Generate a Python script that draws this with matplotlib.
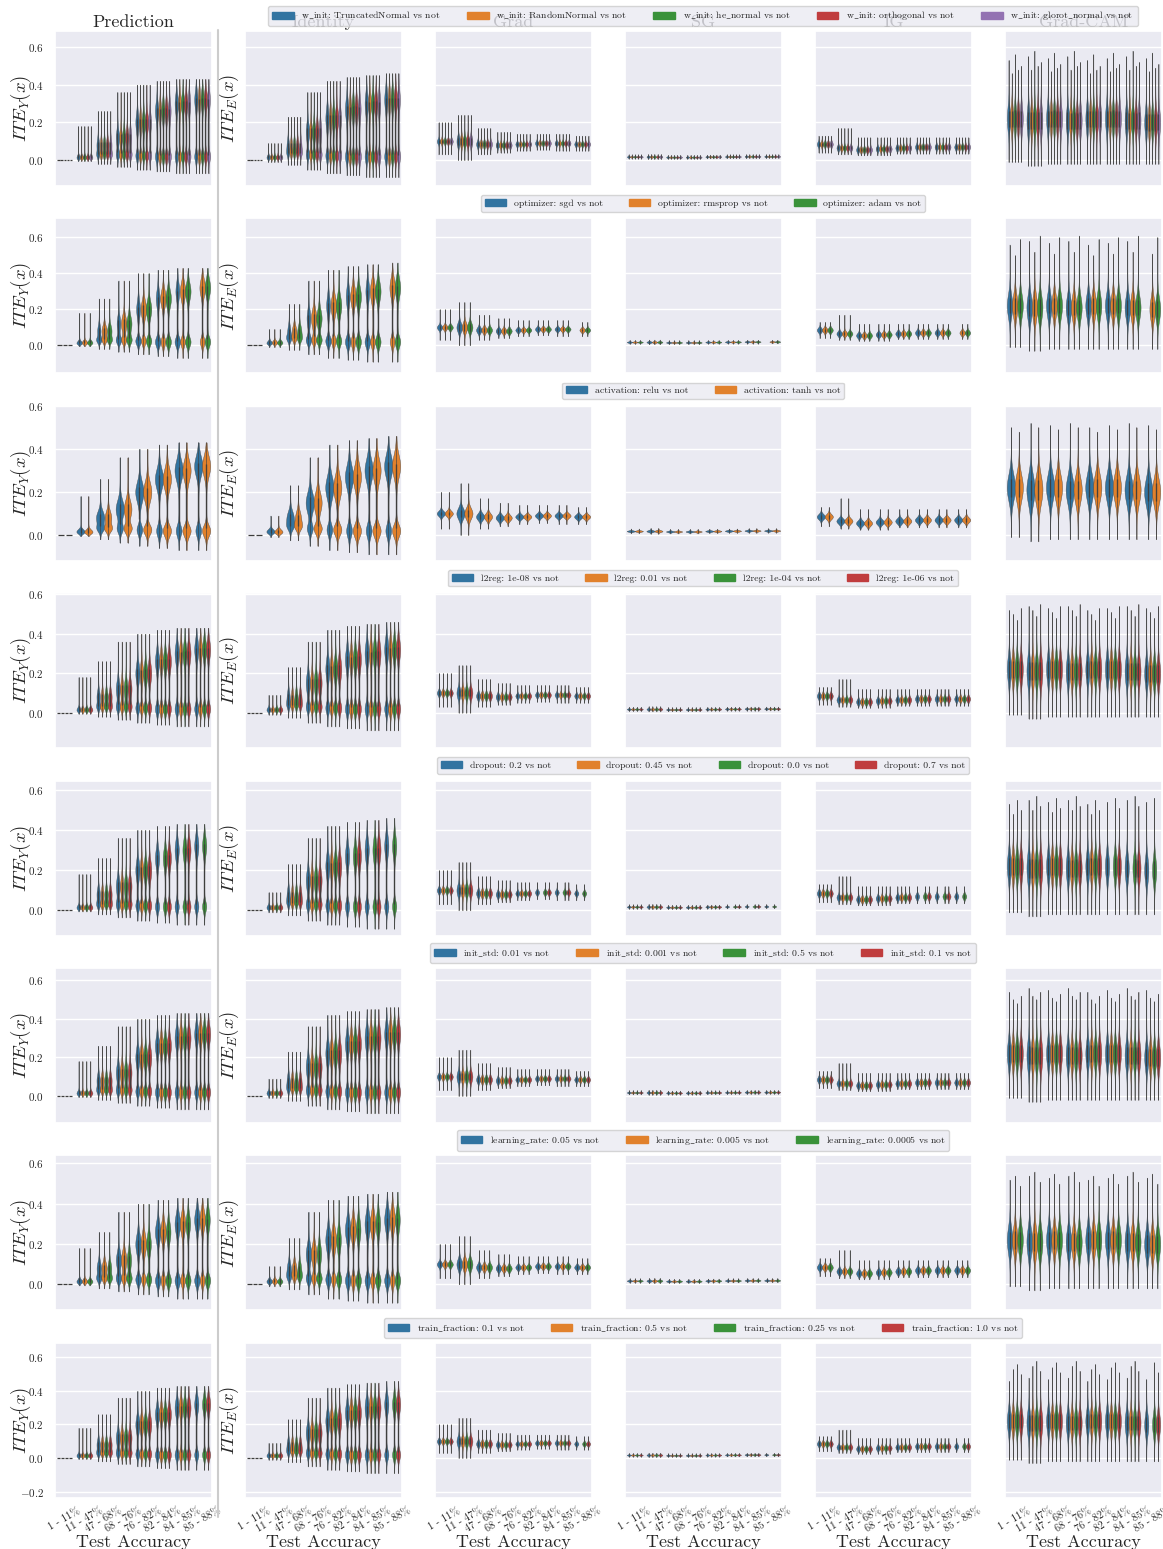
import numpy as np
import matplotlib.pyplot as plt
import seaborn as sns
from matplotlib.lines import Line2D
from matplotlib.patches import Patch
from matplotlib.ticker import MultipleLocator

sns.set_theme(style="darkgrid")
plt.rcParams["font.family"] = ["cmr10", "DejaVu Serif"]
plt.rcParams["mathtext.fontset"] = "cm"
plt.rcParams["axes.formatter.use_mathtext"] = True

W, H = 1163, 1549

accuracy_bins = ["1 - 11%", "11 - 47%", "47 - 68%", "68 - 76%",
                 "76 - 82%", "82 - 84%", "84 - 85%", "85 - 88%"]
method_titles = ["Prediction", "Identity", "Grad", "SG", "IG", "Grad-CAM"]
ylabels = [r"$ITE_Y(x)$", r"$ITE_E(x)$"]

hparam_names = ["w_init", "optimizer", "activation", "l2reg",
                "dropout", "init_std", "learning_rate", "train_fraction"]
hparam_values = [
    ["TruncatedNormal", "RandomNormal", "he_normal", "orthogonal", "glorot_normal"],
    ["sgd", "rmsprop", "adam"],
    ["relu", "tanh"],
    ["1e-08", "0.01", "1e-04", "1e-06"],
    ["0.2", "0.45", "0.0", "0.7"],
    ["0.01", "0.001", "0.5", "0.1"],
    ["0.05", "0.005", "0.0005"],
    ["0.1", "0.5", "0.25", "1.0"],
]

# share of the upper mode for each group (Prediction / Identity)
high_share = [
    [0.5, 0.45, 0.5, 0.5, 0.45],
    [0.4, 0.55, 0.5],
    [0.6, 0.5],
    [0.5, 0.45, 0.5, 0.5],
    [0.5, 0.45, 0.5, 0.5],
    [0.5, 0.5, 0.5, 0.5],
    [0.5, 0.55, 0.45],
    [0.5, 0.5, 0.5, 0.5],
]

# shift of the Grad-CAM upper end for each group
cam_top_shift = [
    [0.03, -0.04, 0.06, -0.02, 0.0],
    [0.06, 0.0, 0.09],
    [0.0, -0.02],
    [0.02, 0.0, -0.03, 0.03],
    [0.03, -0.02, 0.05, 0.0],
    [0.04, 0.0, -0.02, 0.02],
    [0.02, 0.04, -0.01],
    [-0.04, 0.03, 0.06, 0.0],
]

# groups present per accuracy bin (1 = present), default all present
missing = {
    (1, 7): [0, 1, 1],
    (4, 5): [1, 0, 1, 1],
    (4, 6): [1, 0, 1, 1],
    (4, 7): [1, 0, 1, 0],
    (7, 7): [1, 0, 1, 1],
}

# Prediction column: two modes per bin
pred_low = [0.0, 0.012, 0.03, 0.03, 0.025, 0.02, 0.02, 0.02]
pred_high = [0.0, 0.02, 0.08, 0.12, 0.2, 0.26, 0.3, 0.32]
pred_low_sd = [0.0, 0.008, 0.015, 0.02, 0.022, 0.025, 0.025, 0.025]
pred_high_sd = [0.0, 0.01, 0.03, 0.04, 0.045, 0.045, 0.045, 0.045]
pred_min = [0.0, -0.005, -0.02, -0.035, -0.05, -0.06, -0.07, -0.07]
pred_max = [0.0, 0.18, 0.26, 0.36, 0.40, 0.42, 0.43, 0.43]

# Identity column
iden_low = [0.0, 0.012, 0.04, 0.03, 0.025, 0.02, 0.02, 0.02]
iden_high = [0.0, 0.02, 0.08, 0.15, 0.22, 0.27, 0.3, 0.32]
iden_low_sd = [0.0, 0.008, 0.018, 0.022, 0.025, 0.028, 0.028, 0.028]
iden_high_sd = [0.0, 0.01, 0.03, 0.045, 0.05, 0.05, 0.05, 0.05]
iden_min = [0.0, -0.01, -0.025, -0.05, -0.07, -0.08, -0.09, -0.09]
iden_max = [0.0, 0.09, 0.23, 0.36, 0.42, 0.44, 0.45, 0.46]

# single-mode columns: Grad, SG, IG, Grad-CAM
grad_mid = [0.10, 0.10, 0.085, 0.08, 0.085, 0.09, 0.09, 0.085]
grad_sd = [0.012, 0.025, 0.015, 0.013, 0.01, 0.01, 0.01, 0.01]
grad_min = [0.03, 0.0, 0.03, 0.04, 0.05, 0.055, 0.05, 0.05]
grad_max = [0.20, 0.24, 0.17, 0.15, 0.14, 0.14, 0.14, 0.13]

sg_mid = [0.018, 0.018, 0.016, 0.016, 0.018, 0.019, 0.02, 0.02]
sg_sd = [0.003, 0.004, 0.003, 0.003, 0.003, 0.003, 0.003, 0.003]
sg_min = [0.008, 0.006, 0.007, 0.007, 0.009, 0.010, 0.010, 0.011]
sg_max = [0.030, 0.032, 0.028, 0.028, 0.029, 0.030, 0.031, 0.031]

ig_mid = [0.085, 0.065, 0.055, 0.06, 0.065, 0.07, 0.07, 0.07]
ig_sd = [0.012, 0.012, 0.012, 0.012, 0.012, 0.012, 0.012, 0.012]
ig_min = [0.04, 0.03, 0.025, 0.025, 0.035, 0.035, 0.035, 0.035]
ig_max = [0.13, 0.17, 0.12, 0.12, 0.12, 0.12, 0.12, 0.12]

cam_mid = [0.22, 0.21, 0.22, 0.21, 0.22, 0.22, 0.21, 0.20]
cam_sd = [0.06, 0.065, 0.06, 0.06, 0.06, 0.06, 0.06, 0.06]
cam_min = [-0.01, -0.03, -0.02, -0.02, -0.02, -0.02, -0.02, -0.02]
cam_max = [0.50, 0.52, 0.51, 0.52, 0.50, 0.51, 0.52, 0.51]

bimodal_cols = [
    (pred_low, pred_high, pred_low_sd, pred_high_sd, pred_min, pred_max),
    (iden_low, iden_high, iden_low_sd, iden_high_sd, iden_min, iden_max),
]
single_cols = [
    (grad_mid, grad_sd, grad_min, grad_max),
    (sg_mid, sg_sd, sg_min, sg_max),
    (ig_mid, ig_sd, ig_min, ig_max),
    (cam_mid, cam_sd, cam_min, cam_max),
]

row_ylims = [(-0.137, 0.684), (-0.156, 0.705), (-0.12, 0.60), (-0.18, 0.605),
             (-0.125, 0.645), (-0.14, 0.663), (-0.129, 0.64), (-0.237, 0.687)]

colors = ["#3274a1", "#e1812c", "#3a923a", "#c03d3e", "#9372b2"]
line_color = "#3c3c3c"


def make_stats(y, d):
    cdf = np.cumsum(d)
    cdf = cdf / cdf[-1]
    q1, med, q3 = np.interp([0.25, 0.5, 0.75], cdf, y)
    return {"coords": y, "vals": d, "mean": med, "median": med,
            "min": y[0], "max": y[-1], "q1": q1, "q3": q3}


def violin_stats(col, b, share, top_shift):
    if col < 2:
        low, high, low_sd, high_sd, vmin, vmax = [a[b] for a in bimodal_cols[col]]
        if vmax <= vmin:
            return None
        y = np.linspace(vmin, vmax, 200)
        d = ((1 - share) * np.exp(-0.5 * ((y - low) / low_sd) ** 2)
             + share * np.exp(-0.5 * ((y - high) / high_sd) ** 2) + 0.04)
    else:
        mid, sd, vmin, vmax = [a[b] for a in single_cols[col - 2]]
        if col == 5:
            vmax = vmax + top_shift
        y = np.linspace(vmin, vmax, 200)
        d = np.exp(-0.5 * ((y - mid) / sd) ** 2) + 0.02
    return make_stats(y, d)


fig = plt.figure(figsize=(W / 100, H / 100), dpi=100)

col_left = [55, 245, 435, 625, 815, 1005]
ax_w, ax_h = 157, 155
label_x = [-0.14, -0.025]

for r, (name, values) in enumerate(zip(hparam_names, hparam_values)):
    top = 31 + 187.4 * r
    n = len(values)
    slot = 0.8 / n
    for c in range(6):
        ax = fig.add_axes([col_left[c] / W, 1 - (top + ax_h) / H, ax_w / W, ax_h / H])
        stats, pos, cols = [], [], []
        for b in range(len(accuracy_bins)):
            present = missing.get((r, b), [1] * n)
            for g in range(n):
                if not present[g]:
                    continue
                x = b - 0.4 + slot * (g + 0.5)
                s = violin_stats(c, b, high_share[r][g], cam_top_shift[r][g])
                if s is None:
                    ax.hlines(0.0, x - slot * 0.4, x + slot * 0.4, color=line_color, lw=0.9)
                    continue
                stats.append(s)
                pos.append(x)
                cols.append(colors[g])
        if stats:
            parts = ax.violin(stats, positions=pos, widths=slot * 1.05,
                              showmeans=False, showextrema=False, showmedians=False)
            for body, fc in zip(parts["bodies"], cols):
                body.set_facecolor(fc)
                body.set_edgecolor("#4a4a4a")
                body.set_linewidth(0.3)
                body.set_alpha(1)
            ax.vlines(pos, [s["min"] for s in stats], [s["max"] for s in stats],
                      color=line_color, lw=0.6, alpha=0.7)
            ax.vlines(pos, [s["q1"] for s in stats], [s["q3"] for s in stats],
                      color=line_color, lw=1.0, alpha=0.85)
        ax.set_xlim(-0.5, len(accuracy_bins) - 0.5)
        ax.set_ylim(*row_ylims[r])
        ax.yaxis.set_major_locator(MultipleLocator(0.2))
        ax.xaxis.grid(False)
        ax.set_xticks(range(len(accuracy_bins)))
        if r == len(hparam_names) - 1:
            ax.set_xticklabels(accuracy_bins, rotation=30, fontsize=7.5)
            ax.tick_params(axis="x", pad=0)
            ax.set_xlabel("Test Accuracy", fontsize=13, labelpad=0)
        else:
            ax.set_xticklabels([])
        if c == 0:
            ax.tick_params(axis="y", labelsize=8, pad=2)
        else:
            ax.set_yticklabels([])
        if c < 2:
            ax.set_ylabel(ylabels[c], fontsize=13.5)
            ax.yaxis.set_label_coords(label_x[c], 0.5)
        if r == 0:
            ax.set_title(method_titles[c], fontsize=13, pad=3)

    handles = [Patch(facecolor=colors[g], edgecolor=colors[g]) for g in range(n)]
    labels = [name.replace("_", r"$\_$") + ": " + v.replace("_", r"$\_$") + " vs not"
              for v in values]
    fig.legend(handles, labels, loc="center", ncol=n, fontsize=7,
               bbox_to_anchor=(703 / W, 1 - (top - 15) / H),
               columnspacing=2.7, handlelength=2.2, borderpad=0.4)

fig.add_artist(Line2D([218 / W, 218 / W], [1 - 30 / H, 1 - 1517 / H],
                      color="#cccccc", lw=1.5))

fig.savefig("out.png", dpi=100)
